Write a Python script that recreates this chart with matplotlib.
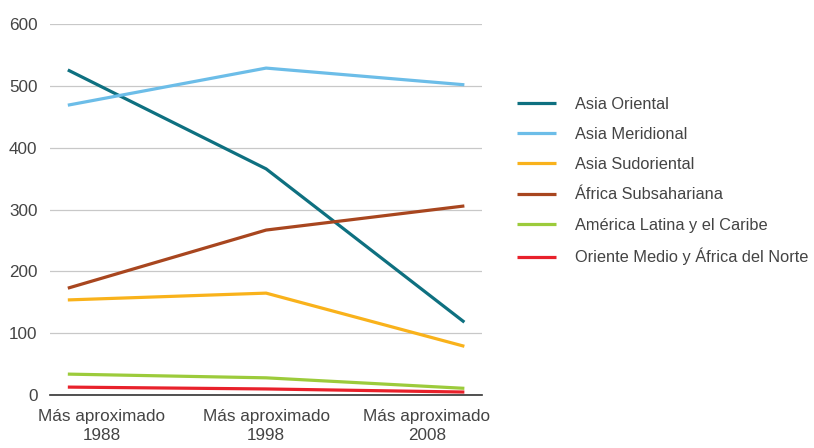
import matplotlib.pyplot as plt

plt.rcParams['font.family'] = ['Liberation Sans', 'DejaVu Sans']

# Data
periods = ['Más aproximado\n1988', 'Más aproximado\n1998', 'Más aproximado\n2008']
asia_oriental = [526, 366, 118]
asia_meridional = [469, 529, 502]
asia_sudoriental = [154, 165, 79]
africa_subsahariana = [173, 267, 306]
america_latina = [34, 28, 11]
oriente_medio = [13, 10, 5]

series = [
    ('Asia Oriental', asia_oriental, '#0e7080'),
    ('Asia Meridional', asia_meridional, '#6cbde8'),
    ('Asia Sudoriental', asia_sudoriental, '#f9b21b'),
    ('África Subsahariana', africa_subsahariana, '#a8461f'),
    ('América Latina y el Caribe', america_latina, '#9ccb3b'),
    ('Oriente Medio y África del Norte', oriente_medio, '#e8212b'),
]

fig = plt.figure(figsize=(8.14, 4.48), dpi=100)
ax = fig.add_axes([0.0614, 0.118, 0.531, 0.828])

x = list(range(len(periods)))
for name, vals, col in series:
    ax.plot(x, vals, color=col, lw=2.3, label=name, solid_capstyle='butt')

ax.set_xlim(-0.09, 2.09)
ax.set_ylim(0, 600)
ax.set_yticks(range(0, 601, 100))
# in the reference the category labels sit a little off the data points
ax.set_xticks([0.17, 1.0, 1.81])
ax.set_xticklabels(periods, fontsize=12.3, color='#444444', linespacing=1.3)
ax.tick_params(axis='both', length=0, colors='#444444', labelsize=12.3)
ax.tick_params(axis='x', pad=10)
ax.tick_params(axis='y', pad=9)
ax.grid(axis='y', color='#c8c8c8', lw=0.9)
ax.set_axisbelow(True)
for s in ['top', 'right', 'left']:
    ax.spines[s].set_visible(False)
ax.spines['bottom'].set_color('#333333')
ax.spines['bottom'].set_linewidth(1.2)

fig.legend(loc='upper left', bbox_to_anchor=(0.617, 0.817), frameon=False,
           fontsize=11.8, handlelength=2.4, handletextpad=1.15,
           labelspacing=0.93, labelcolor='#444444')

fig.savefig('out.png', dpi=100)
